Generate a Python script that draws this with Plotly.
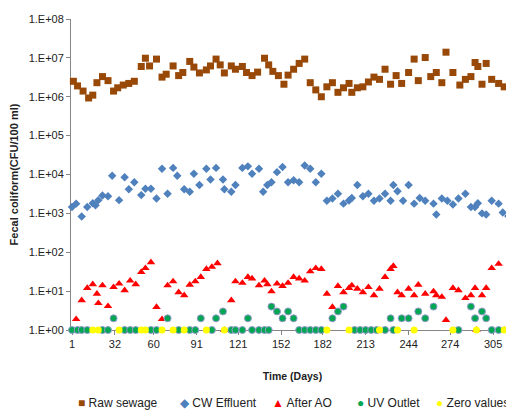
import plotly.graph_objects as go

# ---------------- data ----------------
tick_days = [1, 32, 60, 91, 121, 152, 182, 213, 244, 274, 305]
y_tickvals = [1, 1e1, 1e2, 1e3, 1e4, 1e5, 1e6, 1e7, 1e8]
y_ticktext = ["1.E+00", "1.E+01", "1.E+02", "1.E+03", "1.E+04",
              "1.E+05", "1.E+06", "1.E+07", "1.E+08"]

raw_days = [2, 5, 9, 13, 16, 19, 23, 27, 31, 34, 38, 42, 46, 51, 54, 57, 62, 66, 69, 74,
            78, 81, 86, 89, 93, 98, 101, 105, 108, 111, 116, 119, 124, 127, 131, 135, 140, 143, 146, 150,
            154, 157, 161, 165, 169, 173, 177, 181, 185, 189, 193, 197, 201, 203, 207, 211, 215, 219, 223, 227,
            231, 235, 239, 244, 248, 251, 256, 260, 264, 268, 271, 276, 281, 285, 289, 292, 294, 297, 300, 304,
            309, 313, 320]
raw_sewage = [2.5e6, 1.9e6, 1.4e6, 9.3e5, 1.1e6, 2.3e6, 3.3e6, 2.6e6, 1.4e6, 1.7e6,
              2.0e6, 2.2e6, 2.5e6, 6.0e6, 9.8e6, 6.2e6, 9.3e6, 3.2e6, 3.8e6, 6.2e6,
              3.5e6, 4.2e6, 8.1e6, 5.8e6, 4.1e6, 4.9e6, 6.2e6, 9.3e6, 6.6e6, 4.1e6,
              6.2e6, 5.1e6, 6.0e6, 4.2e6, 3.5e6, 4.3e6, 9.8e6, 6.6e6, 4.5e6, 3.5e6,
              2.1e6, 3.6e6, 5.1e6, 7.2e6, 9.3e6, 2.3e6, 1.5e6, 1.0e6, 1.8e6, 2.3e6,
              1.3e6, 1.7e6, 2.2e6, 1.3e6, 1.7e6, 1.8e6, 2.4e6, 3.2e6, 2.8e6, 5.1e6,
              2.1e6, 3.5e6, 2.2e6, 4.2e6, 9.3e6, 2.6e6, 1.02e7, 3.3e6, 4.2e6, 2.3e6,
              1.4e7, 4.2e6, 2.0e6, 2.8e6, 3.3e6, 7.6e6, 6.0e6, 2.1e6, 7.2e6, 2.8e6,
              2.2e6, 1.8e6, 7.6e5]

cw_days = [1, 4, 8, 12, 16, 18, 20, 23, 27, 30, 35, 39, 42, 46, 51, 54, 58, 62, 66, 70,
           74, 77, 82, 86, 89, 93, 98, 101, 105, 110, 111, 116, 119, 124, 128, 131, 136, 139, 142, 145,
           149, 153, 157, 161, 165, 169, 173, 177, 181, 185, 189, 193, 197, 201, 203, 207, 211, 215, 219, 223,
           227, 231, 233, 236, 240, 244, 248, 252, 256, 262, 264, 268, 272, 276, 280, 285, 289, 292, 294, 297,
           300, 304, 309, 312, 316, 320]
cw_effluent = [1450, 1780, 830, 1450, 1820, 1620, 2190, 2880, 2750, 9300,
               2190, 8500, 4200, 6300, 2950, 4300, 4300, 2400, 14100, 3200,
               14800, 9300, 4200, 3600, 10500, 5400, 14100, 7400, 14800, 7400,
               4200, 3600, 5400, 14800, 16200, 10500, 14100, 3600, 5400, 6300,
               11500, 15500, 6300, 7100, 6300, 17000, 14100, 6300, 10500, 2100,
               2400, 3200, 1780, 2140, 2500, 5400, 2750, 3200, 2100, 2400,
               3200, 2100, 5400, 3700, 2100, 5400, 1780, 2500, 2100, 1780,
               930, 2400, 2100, 1700, 2400, 3200, 1450, 1450, 1820, 1000,
               930, 2100, 1780, 1050, 850, 780]

ao_days = [4, 8, 12, 16, 19, 20, 23, 27, 31, 35, 39, 43, 47, 51, 54, 58, 62, 66, 70, 74,
           78, 82, 86, 90, 94, 98, 102, 106, 111, 116, 119, 124, 128, 131, 136, 140, 142, 145, 149, 153,
           157, 161, 165, 169, 173, 177, 181, 185, 189, 193, 197, 201, 203, 207, 211, 215, 219, 223, 227, 231,
           233, 236, 239, 244, 248, 251, 256, 262, 264, 268, 271, 276, 280, 285, 289, 292, 293, 297, 300, 304,
           309, 313, 320]
after_ao = [1.9, 5.8, 12, 15, 8.5, 4.9, 14, 4.1, 12.6, 15.5,
            10.5, 18.6, 15, 31, 39, 55, 3.9, 1.9, 14, 17.8,
            9.3, 7.8, 14.5, 17.8, 23, 37, 42, 52, 1, 5.8,
            17.8, 16.2, 23, 21, 14, 18.6, 15, 9.8, 15.5, 13.5,
            16.2, 23, 21, 18.6, 32, 39, 37, 8.5, 3.9, 13.5,
            9.3, 12, 14, 11.5, 9.3, 12.6, 7.8, 11.5, 23, 37,
            44, 9.3, 7.8, 11.5, 7.8, 14.5, 8.5, 9.8, 7.8, 7.1,
            1.8, 12, 10.5, 6.6, 7.8, 12, 1, 7.8, 12, 39,
            50, 1, 2.6]

uv_days = [1, 5, 8, 12, 23, 27, 31, 39, 43, 47, 58, 62, 70, 78, 86, 90, 94, 102, 105, 110,
           116, 119, 124, 128, 131, 136, 140, 143, 145, 149, 153, 157, 161, 165, 169, 173, 177, 181, 189, 193,
           197, 205, 209, 213, 217, 221, 227, 231, 233, 239, 244, 251, 256, 262, 280, 289, 292, 297, 300, 304,
           309, 317]
uv_outlet = [1, 1, 1, 1, 1, 1, 2, 1, 1, 1, 1, 1, 2, 1, 1, 1, 2, 1, 2, 3,
             1, 1, 1, 2, 1, 1, 1, 1, 4, 3, 2, 3, 2, 1, 1, 1, 1, 1, 2, 3,
             4, 1, 1, 1, 1, 1, 1, 2, 1, 2, 2, 3, 2, 4, 1, 4, 2, 3, 2, 1,
             1, 1]

zero_days = [16, 20, 35, 51, 54, 66, 74, 82, 98, 111, 185, 201, 223, 236, 248, 276, 293, 313]
zero_values = [1] * len(zero_days)  # zero counts, drawn on the 1.E+00 baseline

series_names = ["Raw sewage", "CW Effluent", "After AO", "UV Outlet", "Zero values"]

# ---------------- styling ----------------
FONT = "Liberation Sans, Arial, sans-serif"
C_RAW = "#984807"
C_CW = "#4F81BD"
C_AO = "#FF0000"
C_UV = "#00A651"
C_ZERO = "#FFFF00"
AX = "#868686"

fig = go.Figure()
fig.add_trace(go.Scatter(x=raw_days, y=raw_sewage, mode="markers", name=series_names[0],
                         marker=dict(symbol="square", size=7, color=C_RAW), cliponaxis=False))
fig.add_trace(go.Scatter(x=cw_days, y=cw_effluent, mode="markers", name=series_names[1],
                         marker=dict(symbol="diamond", size=6.5, color=C_CW), cliponaxis=False))
fig.add_trace(go.Scatter(x=ao_days, y=after_ao, mode="markers", name=series_names[2],
                         marker=dict(symbol="triangle-up", size=7.5, color=C_AO), cliponaxis=False))
fig.add_trace(go.Scatter(x=uv_days, y=uv_outlet, mode="markers", name=series_names[3],
                         marker=dict(symbol="circle", size=7, color=C_UV,
                                     line=dict(color="#9a9ad0", width=1)), cliponaxis=False))
fig.add_trace(go.Scatter(x=zero_days, y=zero_values, mode="markers", name=series_names[4],
                         marker=dict(symbol="circle", size=7, color=C_ZERO), cliponaxis=False))

# legend drawn as a row of text entries beneath the chart
legend_items = [
    ("■", C_RAW, series_names[0], 0.011),
    ("◆", C_CW, series_names[1], 0.241),
    ("▲", C_AO, series_names[2], 0.449),
    ("●", C_UV, series_names[3], 0.641),
    ("●", C_ZERO, series_names[4], 0.819),
]
for sym, col, label, xp in legend_items:
    fig.add_annotation(xref="paper", yref="paper", x=xp, y=-0.235, xanchor="left", yanchor="middle",
                       showarrow=False,
                       text=f"<span style='color:{col}'>{sym}</span> {label}",
                       font=dict(family=FONT, size=12, color="#222222"))

# the page body adds an 8 px margin, so the figure is 8 px smaller than the window
fig.update_layout(
    width=506, height=404,
    margin=dict(l=63, r=0, t=11, b=82),
    paper_bgcolor="white", plot_bgcolor="white",
    showlegend=False,
    font=dict(family=FONT, size=11, color="#222222"),
    xaxis=dict(
        range=[0.28, 320.1], tickmode="array", tickvals=tick_days,
        ticktext=[str(t) for t in tick_days],
        showgrid=False, zeroline=False, showline=True, linecolor=AX, linewidth=1,
        ticks="outside", ticklen=4, tickcolor=AX, layer="below traces",
        tickfont=dict(size=11, color="#222222"),
        title=dict(text="<b>Time (Days)</b>", font=dict(size=10.5, color="#222222"), standoff=23),
    ),
    yaxis=dict(
        type="log", range=[0, 8], tickmode="array", tickvals=y_tickvals, ticktext=y_ticktext,
        showgrid=False, zeroline=False, showline=True, linecolor=AX, linewidth=1,
        ticks="outside", ticklen=4, tickcolor=AX, layer="below traces",
        tickfont=dict(size=11, color="#222222"),
        title=dict(text="<b>Fecal coliform(CFU/100 ml)</b>", font=dict(size=11, color="#222222"), standoff=8),
    ),
)

fig.write_html("out.html")
